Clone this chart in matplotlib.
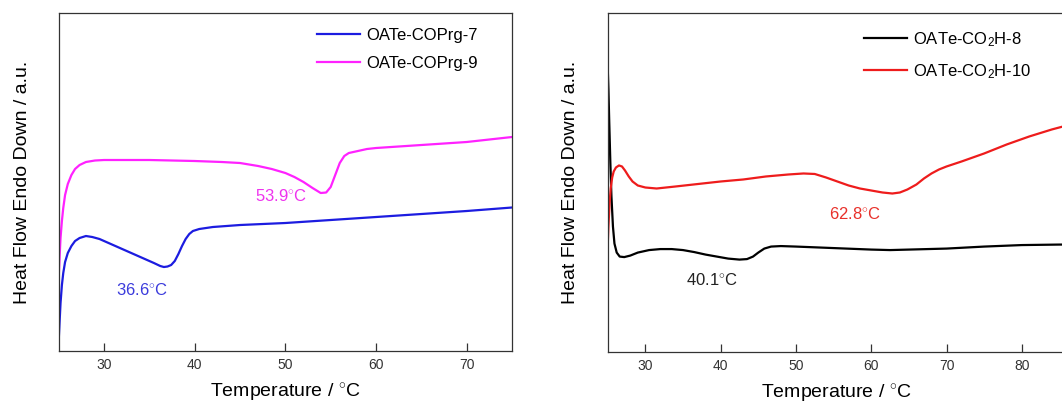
import numpy as np
import matplotlib
matplotlib.use('Agg')
import matplotlib.pyplot as plt

plt.rcParams['font.family'] = ['Liberation Sans', 'DejaVu Sans']
plt.rcParams['mathtext.fontset'] = 'custom'
plt.rcParams['mathtext.rm'] = 'Liberation Sans'
plt.rcParams['mathtext.it'] = 'Liberation Sans:italic'

# left panel: OATe-COPrg (heat flow in arbitrary units)
t_prg7 = [25.0, 25.1, 25.2, 25.35, 25.5, 25.7, 26.0, 26.4, 26.8, 27.3, 28.0, 28.7, 29.5, 30.5,
          31.5, 32.5, 33.5, 34.5, 35.5, 36.2, 36.6, 37.0, 37.4, 37.8, 38.2, 38.6, 39.0, 39.4,
          39.8, 40.5, 42, 45, 50, 55, 60, 65, 70, 75]
hf_prg7 = [11, 30, 48, 66, 78, 89, 98, 105, 110, 113, 115, 114, 112, 108,
           104, 100, 96, 92, 88, 85, 84, 84.5, 86, 90, 97, 105, 112, 117,
           120, 122, 124, 126, 128, 131, 134, 137, 140, 143.5]
t_prg9 = [25.0, 25.1, 25.2, 25.35, 25.5, 25.7, 26.0, 26.4, 26.8, 27.3, 28.0, 29, 30, 35, 40,
          43, 45, 47, 48.5, 50, 51, 52, 53, 53.9, 54.5, 55, 55.5, 56, 56.5, 57, 58, 59, 60,
          65, 70, 75]
hf_prg9 = [74, 95, 113, 130, 143, 156, 167, 176, 182, 186, 189, 190.5, 191, 191, 190,
           189, 188, 185, 182, 178, 174, 169, 163, 158, 158.5, 164, 176, 188, 195, 198, 200, 202, 203,
           206, 209, 214]

# right panel: OATe-CO2H
t_co2h8 = [25.0, 25.1, 25.2, 25.35, 25.5, 25.7, 25.9, 26.2, 26.6, 27.2, 28, 29, 30.5, 32, 33.5,
           35, 36.5, 38, 39.5, 41, 42.5, 43.5, 44.3, 45, 45.8, 46.7, 48, 50, 55, 60, 62.5, 65,
           70, 75, 80, 85, 86]
hf_co2h8 = [285, 262, 232, 190, 155, 125, 108, 99, 95, 94.5, 96, 99, 101.5, 102.5, 102.5,
            101.5, 99.5, 97, 95, 93, 92, 92.5, 95, 99, 103, 105, 105.5, 105, 103.5, 102, 101.5, 102,
            103, 105, 106.5, 107, 107]
t_co2h10 = [25.0, 25.1, 25.25, 25.4, 25.6, 25.8, 26.1, 26.5, 26.9, 27.3, 27.8, 28.3, 29, 30, 31.5,
            34, 37, 40, 43, 46, 49, 51, 52.5, 54, 55.5, 57, 58.5, 60, 61.5, 62.8, 63.8, 64.8, 66,
            67, 68, 69, 70, 72, 75, 78, 81, 84, 86]
hf_co2h10 = [105, 125, 148, 163, 174, 180, 184, 186, 185, 181, 175, 170, 166, 164, 163,
             165, 167.5, 170, 172, 175, 177, 178, 177.5, 174, 170, 166, 163, 161, 159, 158, 159, 162, 167,
             173, 178, 182, 185, 190, 198, 207, 215, 222, 226]

ticks_left = [30, 40, 50, 60, 70]
ticks_right = [30, 40, 50, 60, 70, 80]

deg = '$^{\\circ}$C'

fig = plt.figure(figsize=(10.62, 4.05), dpi=100)
ax1 = fig.add_axes([0.0553, 0.1333, 0.4268, 0.8346])
ax2 = fig.add_axes([0.5722, 0.1316, 0.4297, 0.8356])

ax1.plot(t_prg7, hf_prg7, color='#1c1ce0', lw=1.6, label='OATe-COPrg-7')
ax1.plot(t_prg9, hf_prg9, color='#ff22ff', lw=1.6, label='OATe-COPrg-9')
ax1.text(34.2, 61, '36.6' + deg, color='#3b3bdc', fontsize=12, ha='center', va='center')
ax1.text(49.5, 155, '53.9' + deg, color='#ee33ee', fontsize=12, ha='center', va='center')
ax1.set_xlim(25, 75)
ax1.set_xticks(ticks_left)

ax2.plot(t_co2h8, hf_co2h8, color='black', lw=1.6, label='OATe-CO$_\\mathregular{2}$H-8')
ax2.plot(t_co2h10, hf_co2h10, color='#ee1c1c', lw=1.6, label='OATe-CO$_\\mathregular{2}$H-10')
ax2.text(38.9, 72, '40.1' + deg, color='#222222', fontsize=12, ha='center', va='center')
ax2.text(57.8, 138, '62.8' + deg, color='#e8302a', fontsize=12, ha='center', va='center')
ax2.set_xlim(25, 85.6)
ax2.set_xticks(ticks_right)

for ax, lx, ly in [(ax1, 0.569, 0.957), (ax2, 0.562, 0.95)]:
    ax.set_ylim(0, 338)
    ax.set_yticks([])
    ax.tick_params(axis='x', direction='in', length=6, width=0.9, pad=5,
                   labelsize=10, labelcolor='#333333', color='#333333')
    for s in ax.spines.values():
        s.set_color('#333333')
        s.set_linewidth(0.9)
    ax.set_xlabel('Temperature / ' + deg, fontsize=14, labelpad=7)
    ax.set_ylabel('Heat Flow Endo Down / a.u.', fontsize=14)
    ax.yaxis.set_label_coords(-0.062, 0.5)
    ax.legend(loc='upper left', bbox_to_anchor=(lx, ly), frameon=False, fontsize=12,
              handlelength=2.6, handletextpad=0.35, borderpad=0, borderaxespad=0,
              labelspacing=0.78)

fig.savefig('out.png', dpi=100)
